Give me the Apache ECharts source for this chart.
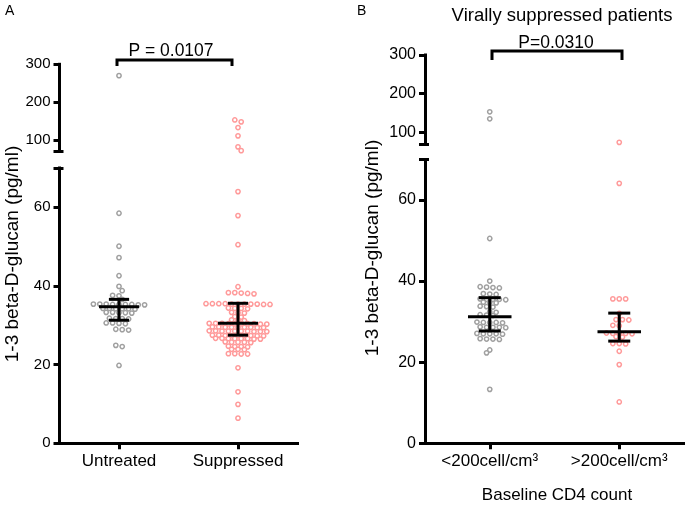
<!DOCTYPE html>
<html>
<head>
<meta charset="utf-8">
<script src="https://cdn.jsdelivr.net/npm/echarts@6/dist/echarts.min.js"></script>
<style>html,body{margin:0;padding:0;background:#fff}#c{width:685px;height:506px}</style>
</head>
<body>
<div id="c"></div>
<script>
// ---------------- data ----------------
const catsA = ['Untreated', 'Suppressed'];
const catsB = ['<200cell/cm³', '>200cell/cm³'];

const untreated = [270, 58.5, 50.1, 47.2, 42.6, 39.9, 38.8, 37.6, 37.5, 36.6,
  35.4, 35.3, 35.3, 35.2, 35.4, 35.3, 35.2, 35.3, 35.4,
  34.2, 34.3, 34.1, 34.2, 34.3, 34.2,
  33.2, 33.3, 33.1, 33.2, 33.3,
  31.7, 31.6, 31.8, 31.7,
  30.5, 30.6, 30.4, 30.6,
  28.9, 29.0, 28.8,
  24.9, 24.6, 19.8];

const suppressed = [153, 148, 133, 111, 82, 72, 64.0, 57.9, 50.5, 39.8,
  38.0, 38.3, 38.1, 38.2, 38.3,
  35.4, 35.5, 35.3, 35.4, 35.5, 35.4, 35.3, 35.5, 35.4, 35.5, 35.4,
  34.3, 34.2, 34.4, 34.3,
  33.2, 33.1, 33.3,
  32.2, 32.1,
  31.3, 31.2, 31.4,
  30.4, 30.5, 30.3, 30.4, 30.5, 30.4, 30.3, 30.5, 30.4, 30.4,
  29.5, 29.4, 29.6, 29.5, 29.5, 29.4, 29.6, 29.5, 29.5,
  28.5, 28.4, 28.6, 28.5, 28.5, 28.4, 28.6, 28.5, 28.5, 28.4,
  27.4, 27.3, 27.5, 27.4, 27.4, 27.3, 27.5, 27.4, 27.4,
  26.6, 26.5, 26.7, 26.6, 26.6, 26.5, 26.7, 26.6,
  25.7, 25.6, 25.8, 25.7, 25.7,
  24.6, 24.5, 24.7, 24.6,
  23.9, 23.8, 23.9,
  22.8, 22.7, 22.8, 22.7,
  19.2, 13.1, 9.9, 6.4];

const below200 = [153, 135, 50.5, 40.0,
  38.5, 38.3, 38.6, 38.4,
  36.8, 36.7, 36.9,
  35.5, 35.4, 35.6, 35.5, 35.5,
  34.7, 34.6, 34.8,
  33.7, 33.6, 33.8,
  32.4, 32.3,
  31.6, 31.5, 31.7,
  29.8, 29.7, 29.9, 29.8, 29.8,
  28.6, 28.5, 28.7, 28.6, 28.6,
  27.0, 26.9, 27.1, 27.0, 27.0,
  25.7, 25.6, 25.8, 25.7,
  23.0, 22.3, 13.3];

const above200 = [74, 64.1, 35.6, 35.6, 35.6, 32.0, 30.5, 30.4, 30.5, 29.1, 29.0,
  27.1, 27.1, 27.2, 27.0, 27.1, 26.3, 26.2,
  24.6, 24.6, 24.5, 22.7, 19.4, 10.2];

// median / lower / upper of the error bars
const medianA = [34.7, 30.5], lowA = [31.3, 27.5], highA = [36.6, 35.6];
const medianB = [31.2, 27.5], lowB = [27.7, 25.2], highB = [35.9, 32.1];

// axis ticks
const upperTicks = [100, 200, 300];
const lowerTicks = [0, 20, 40, 60];
const breakLow = 70, breakHigh = 300;

const pA = 'P = 0.0107', pB = 'P=0.0310';
const yTitle = '1-3 beta-D-glucan (pg/ml)';

// ---------------- chart ----------------
const FONT = '"Liberation Sans", Arial, Helvetica, sans-serif';
const GRAY = '#a0a0a0', PINK = '#ff9a9a';
const chart = echarts.init(document.getElementById('c'), null, {renderer: 'canvas'});

function yMain(grid, min, max, ticks, labels, fs) {
  return {type: 'value', gridIndex: grid, position: 'left', offset: 0, min: min, max: max, splitLine: {show: false},
    axisLine: {show: true, lineStyle: {color: '#000', width: 3, cap: 'square'}},
    axisTick: {show: true, length: 6, lineStyle: {color: '#000', width: 3}, customValues: ticks},
    axisLabel: {show: true, margin: 9, fontSize: fs, fontFamily: FONT, color: '#000', customValues: labels}};
}
function yCap(grid, min, max, v) {
  return {type: 'value', gridIndex: grid, position: 'left', offset: 0, min: min, max: max, splitLine: {show: false},
    axisLine: {show: false},
    axisTick: {show: true, inside: true, length: 4, lineStyle: {color: '#000', width: 3}, customValues: [v]},
    axisLabel: {show: false}};
}
function xMain(grid, cats, fs) {
  return {type: 'category', gridIndex: grid, data: cats, boundaryGap: true,
    axisLine: {show: true, lineStyle: {color: '#000', width: 3, cap: 'square'}},
    axisTick: {show: true, alignWithLabel: true, length: 6, lineStyle: {color: '#000', width: 3}},
    axisLabel: {fontSize: fs, margin: 10, color: '#000', fontFamily: FONT},
    splitLine: {show: false}};
}
function xHidden(grid, cats) {
  return {type: 'category', gridIndex: grid, data: cats, show: false, boundaryGap: true};
}
function errSeries(xi, yi, med, lo, hi) {
  return {type: 'custom', xAxisIndex: xi, yAxisIndex: yi, z: 10, silent: true,
    data: med.map((m, i) => [i, m, lo[i], hi[i]]),
    encode: {x: 0, y: [1, 2, 3]},
    renderItem: function (params, api) {
      const c = api.value(0);
      const pm = api.coord([c, api.value(1)]);
      const pl = api.coord([c, api.value(2)]);
      const ph = api.coord([c, api.value(3)]);
      const bw = api.size([1, 0])[0];
      const w1 = bw * 0.168, w2 = bw * 0.085;
      const st = {stroke: '#000', lineWidth: 3};
      const ln = (x1, y1, x2, y2) => ({type: 'line', shape: {x1, y1, x2, y2}, style: st});
      return {type: 'group', children: [
        ln(pm[0] - w1, pm[1], pm[0] + w1, pm[1]),
        ln(pm[0], pl[1], pm[0], ph[1]),
        ln(pm[0] - w2, pl[1], pm[0] + w2, pl[1]),
        ln(pm[0] - w2, ph[1], pm[0] + w2, ph[1])
      ]};
    }};
}

const centered = {textAlign: 'center', textVerticalAlign: 'middle', align: 'center', verticalAlign: 'middle', fill: '#000'};
const base = {
  animation: false,
  backgroundColor: '#fff',
  grid: [
    {left: 59.5, top: 64.3, width: 238, height: 87.1, containLabel: false, outerBoundsMode: 'none'},
    {left: 59.5, top: 168, width: 238, height: 275.3, containLabel: false, outerBoundsMode: 'none'},
    {left: 425, top: 55, width: 259, height: 88.9, containLabel: false, outerBoundsMode: 'none'},
    {left: 425, top: 159.4, width: 259, height: 283.9, containLabel: false, outerBoundsMode: 'none'}
  ],
  xAxis: [xHidden(0, catsA), xMain(1, catsA, 17), xHidden(2, catsB), xMain(3, catsB, 17)],
  yAxis: [
    yMain(0, breakLow, breakHigh, [breakLow].concat(upperTicks), upperTicks, 15),
    yMain(1, 0, breakLow, lowerTicks.concat([breakLow]), lowerTicks, 15),
    yMain(2, breakLow, breakHigh, [breakLow].concat(upperTicks), upperTicks, 16),
    yMain(3, 0, breakLow, lowerTicks.concat([breakLow]), lowerTicks, 16),
    yCap(0, breakLow, breakHigh, breakLow),
    yCap(1, 0, breakLow, breakLow),
    yCap(2, breakLow, breakHigh, breakLow),
    yCap(3, 0, breakLow, breakLow)
  ],
  graphic: [
    {type: 'text', x: 5, y: 4, style: {text: 'A', font: '14px ' + FONT, fill: '#000'}},
    {type: 'text', x: 357, y: 4, style: {text: 'B', font: '14px ' + FONT, fill: '#000'}},
    {type: 'text', x: 562, y: 15.5, style: Object.assign({text: 'Virally suppressed patients', font: '18.5px ' + FONT}, centered)},
    {type: 'text', x: 557, y: 495, style: Object.assign({text: 'Baseline CD4 count', font: '17px ' + FONT}, centered)},
    {type: 'text', x: 13, y: 254, rotation: Math.PI / 2, style: Object.assign({text: yTitle, font: '19px ' + FONT}, centered)},
    {type: 'text', x: 373, y: 248, rotation: Math.PI / 2, style: Object.assign({text: yTitle, font: '19px ' + FONT}, centered)},
    {type: 'polyline', shape: {points: [[117, 66], [117, 60], [232, 60], [232, 66]]}, style: {stroke: '#000', lineWidth: 3, fill: null}},
    {type: 'polyline', shape: {points: [[492, 60], [492, 51], [622, 51], [622, 60]]}, style: {stroke: '#000', lineWidth: 3, fill: null}},
    {type: 'text', x: 171, y: 51.5, style: Object.assign({text: pA, font: '17.5px ' + FONT}, centered)},
    {type: 'text', x: 556, y: 43, style: Object.assign({text: pB, font: '17.5px ' + FONT}, centered)}
  ],
  series: [errSeries(1, 1, medianA, lowA, highA), errSeries(3, 3, medianB, lowB, highB)]
};
chart.setOption(base);

// row-based scatter-dot layout (points with near-equal pixel y share a centred row)
const D = 6.4;
function rowsLayout(ys) {
  const order = ys.map((y, i) => i).sort((a, b) => ys[a] - ys[b]);
  const rows = [];
  order.forEach(i => {
    const last = rows[rows.length - 1];
    if (last && ys[i] - last.y0 < 2) last.items.push(i); else rows.push({y0: ys[i], items: [i]});
  });
  const dx = new Array(ys.length);
  let prev = null, sgn = 1;
  rows.forEach(r => {
    const n = r.items.length;
    const baseX = r.items.map((_, k) => (k - (n - 1) / 2) * D);
    let best = baseX, bestScore = Infinity;
    [0, sgn * D / 2, -sgn * D / 2].forEach(s => {
      const xs = baseX.map(x => x + s);
      let score = Math.abs(s) * 0.01;
      if (prev && Math.abs(r.y0 - prev.y0) < D) {
        xs.forEach(x => prev.xs.forEach(px => { const d = Math.abs(x - px); if (d < D / 2) score += (D / 2 - d); }));
      }
      if (score < bestScore - 1e-9) { bestScore = score; best = xs; }
    });
    if (best !== baseX && best[0] !== baseX[0]) sgn = -sgn;
    r.items.forEach((i, k) => { dx[i] = best[k]; });
    prev = {y0: r.y0, xs: best};
  });
  return dx;
}
function scatterFor(values, cat, xiU, xiL, color) {
  const out = [];
  [[values.filter(v => v > breakLow), xiU], [values.filter(v => v <= breakLow), xiL]].forEach(([vals, ax]) => {
    const ys = vals.map(v => chart.convertToPixel({xAxisIndex: ax, yAxisIndex: ax}, [cat, v])[1]);
    const dx = rowsLayout(ys);
    out.push({type: 'scatter', xAxisIndex: ax, yAxisIndex: ax, silent: true, z: 3,
      symbol: 'circle', symbolSize: 4.3,
      itemStyle: {color: '#fff', borderColor: color, borderWidth: 1.5, opacity: 1},
      data: vals.map((v, i) => ({value: [cat, v], symbolOffset: [dx[i], 0]}))});
  });
  return out;
}
const pts = [].concat(
  scatterFor(untreated, 0, 0, 1, GRAY),
  scatterFor(suppressed, 1, 0, 1, PINK),
  scatterFor(below200, 0, 2, 3, GRAY),
  scatterFor(above200, 1, 2, 3, PINK)
);
chart.setOption({series: base.series.concat(pts)});
</script>
</body>
</html>
